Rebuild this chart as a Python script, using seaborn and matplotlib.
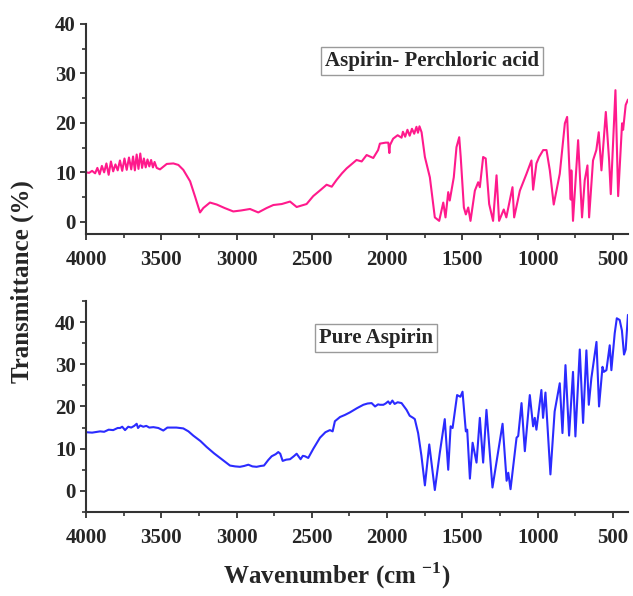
import numpy as np
import pandas as pd
import seaborn as sns
import matplotlib.pyplot as plt
from matplotlib.ticker import MultipleLocator

# 1. data
# Aspirin - Perchloric acid
top_wn = [4000, 3980, 3960, 3940, 3925, 3910, 3895, 3880, 3865, 3850, 3835, 3820,
          3805, 3790, 3775, 3760, 3745, 3730, 3715, 3700, 3688, 3676, 3664, 3652,
          3640, 3628, 3616, 3604, 3592, 3580, 3568, 3556, 3545, 3531, 3509, 3464,
          3420, 3387, 3354, 3309, 3276, 3243, 3221, 3177, 3132, 3080, 3022, 2970,
          2911, 2856, 2800, 2756, 2700, 2645, 2601, 2535, 2491, 2440, 2402, 2368,
          2335, 2300, 2269, 2203, 2169, 2136, 2092, 2060, 2048, 2010, 1992, 1985,
          1981, 1960, 1930, 1904, 1895, 1880, 1865, 1850, 1835, 1820, 1805, 1795,
          1785, 1771, 1749, 1716, 1683, 1654, 1627, 1612, 1594, 1584, 1557, 1539,
          1521, 1511, 1490, 1477, 1461, 1446, 1417, 1395, 1384, 1362, 1345, 1322,
          1296, 1273, 1256, 1225, 1208, 1167, 1156, 1118, 1074, 1041, 1030, 1008,
          990, 963, 941, 919, 893, 875, 853, 819, 804, 787, 780, 776, 765, 731,
          705, 687, 669, 658, 632, 610, 594, 576, 547, 525, 514, 483, 465, 439,
          432, 415, 400]
top_t = [10.0, 9.9, 10.3, 9.8, 10.9, 9.6, 11.3, 10.0, 11.8, 9.5, 12.2, 10.2,
         11.6, 10.4, 12.4, 10.3, 12.8, 10.5, 13.0, 10.6, 13.2, 10.4, 13.6, 10.7,
         13.8, 10.9, 12.8, 11.0, 12.6, 11.2, 12.5, 11.0, 12.1, 10.9, 10.6, 11.7,
         11.8, 11.5, 10.5, 8.2, 5.1, 1.9, 2.8, 3.9, 3.5, 2.8, 2.1, 2.3,
         2.6, 1.9, 2.8, 3.4, 3.6, 4.1, 3.0, 3.6, 5.2, 6.5, 7.5, 7.1,
         8.5, 9.8, 10.8, 12.5, 12.2, 13.5, 12.9, 14.5, 15.8, 16.0, 16.0, 13.9,
         15.5, 16.8, 17.5, 17.0, 18.2, 17.2, 18.6, 17.4, 18.8, 17.8, 19.2, 18.0,
         19.3, 18.1, 13.1, 9.0, 0.9, 0.2, 3.9, 0.9, 6.0, 4.3, 9.0, 15.1,
         17.1, 13.1, 2.9, 1.5, 2.9, 0.2, 6.3, 8.0, 7.0, 13.1, 12.8, 3.6,
         0.2, 9.4, 0.2, 2.5, 0.9, 7.0, 0.9, 6.3, 9.7, 12.4, 6.5, 11.8,
         13.1, 14.5, 14.5, 10.4, 3.5, 6.3, 9.7, 19.9, 21.2, 9.0, 4.5, 10.4, 0.2, 16.5,
         0.9, 8.4, 11.4, 0.9, 12.4, 14.5, 18.1, 10.4, 22.2, 12.4, 5.6, 26.6, 5.2, 19.9,
         18.6, 23.6, 24.7]

# Pure Aspirin
bot_wn = [4000, 3960, 3907, 3880, 3850, 3820, 3790, 3774, 3760, 3741, 3720, 3700,
          3680, 3664, 3655, 3640, 3620, 3600, 3580, 3553, 3520, 3487, 3460, 3443,
          3400, 3354, 3320, 3288, 3240, 3199, 3150, 3110, 3070, 3044, 3010, 2978,
          2950, 2922, 2895, 2867, 2840, 2818, 2790, 2767, 2740, 2723, 2710, 2694,
          2670, 2645, 2620, 2601, 2585, 2575, 2560, 2546, 2524, 2490, 2446, 2410,
          2380, 2362, 2347, 2313, 2280, 2247, 2200, 2158, 2130, 2103, 2080, 2060,
          2048, 2025, 2010, 1993, 1981, 1965, 1950, 1930, 1904, 1871, 1850, 1827,
          1816, 1794, 1772, 1749, 1720, 1683, 1650, 1617, 1594, 1578, 1565, 1535,
          1513, 1499, 1477, 1468, 1450, 1432, 1406, 1384, 1362, 1340, 1300, 1233,
          1206, 1195, 1180, 1140, 1129, 1107, 1085, 1052, 1030, 1019, 1008, 975,
          964, 948, 915, 887, 853, 835, 815, 791, 765, 749, 720, 698,
          676, 660, 643, 609, 592, 569, 560, 543, 521, 510, 488, 474,
          455, 440, 426, 415, 400]
bot_t = [13.9, 13.8, 14.1, 14.0, 14.5, 14.4, 14.9, 14.9, 15.2, 14.4, 15.2, 15.0,
         15.4, 15.9, 14.9, 15.5, 15.2, 15.4, 15.0, 15.1, 14.9, 14.3, 15.0, 15.0,
         15.0, 14.8, 14.1, 13.1, 11.8, 10.4, 8.9, 7.8, 6.7, 6.0, 5.8, 5.7,
         5.9, 6.2, 5.8, 5.7, 5.9, 6.0, 7.3, 8.2, 8.7, 9.2, 8.8, 7.1,
         7.4, 7.5, 8.2, 8.8, 8.0, 7.5, 8.3, 8.2, 7.8, 10.0, 12.6, 13.9,
         14.4, 14.1, 16.5, 17.5, 18.0, 18.6, 19.6, 20.4, 20.7, 20.8, 20.0, 20.5,
         20.4, 20.4, 20.7, 21.2, 20.6, 21.4, 20.6, 21.0, 20.8, 19.2, 17.8, 17.3,
         17.0, 13.7, 8.3, 1.3, 11.0, 0.2, 9.0, 17.0, 5.0, 15.3, 14.9, 22.7,
         22.3, 23.5, 14.1, 14.5, 2.9, 11.4, 6.7, 17.3, 6.7, 19.2, 0.8, 15.9,
         2.4, 4.3, 0.4, 12.6, 13.0, 20.8, 9.4, 22.7, 15.3, 17.3, 14.5, 23.9,
         17.3, 23.3, 3.9, 18.8, 25.5, 13.7, 29.8, 13.1, 28.2, 12.9, 33.5, 16.1,
         33.3, 20.4, 26.7, 35.3, 20.0, 29.4, 28.2, 28.6, 34.5, 28.6, 37.3, 40.9,
         40.5, 38.0, 32.3, 33.5, 41.7]

panels = ['Aspirin- Perchloric acid', 'Pure Aspirin']
colors = ['#ff1a8c', '#2b2bff']
ylims = [(-2.5, 40), (-5, 45)]

# 2. style
sns.set_style('ticks')
plt.rcParams['font.family'] = ['Liberation Serif', 'DejaVu Serif']
plt.rcParams['font.weight'] = 'bold'
plt.rcParams['mathtext.fontset'] = 'custom'
plt.rcParams['mathtext.rm'] = 'Liberation Serif:bold'
plt.rcParams['mathtext.bf'] = 'Liberation Serif:bold'

fig = plt.figure(figsize=(6.33, 5.96), dpi=100)
ax_top = fig.add_axes([0.136, 0.607, 0.856, 0.353])
ax_bot = fig.add_axes([0.136, 0.141, 0.856, 0.354])

data = [(top_wn, top_t), (bot_wn, bot_t)]
box_pos = [(0.638, 0.824), (0.535, 0.825)]

for i, ax in enumerate([ax_top, ax_bot]):
    df = pd.DataFrame({'wn': data[i][0], 't': data[i][1]})
    sns.lineplot(data=df, x='wn', y='t', ax=ax, color=colors[i], lw=1.5,
                 sort=False, estimator=None)
    ax.set_xlim(4000, 400)
    ax.set_ylim(*ylims[i])
    ax.xaxis.set_major_locator(MultipleLocator(500))
    ax.xaxis.set_minor_locator(MultipleLocator(250))
    ax.yaxis.set_major_locator(MultipleLocator(10))
    ax.yaxis.set_minor_locator(MultipleLocator(5))
    ax.tick_params(which='major', length=4.5, width=1.3, color='#333333',
                   labelsize=15)
    ax.tick_params(which='minor', length=3, width=1.2, color='#333333')
    ax.tick_params(axis='x', which='major', pad=7)
    ax.tick_params(axis='y', which='major', pad=3)
    for lab in ax.get_xticklabels() + ax.get_yticklabels():
        lab.set_fontweight('bold')
    sns.despine(ax=ax)
    for s in ['left', 'bottom']:
        ax.spines[s].set_linewidth(1.5)
        ax.spines[s].set_color('#333333')
    ax.set_xlabel('')
    ax.set_ylabel('')
    ax.text(box_pos[i][0], box_pos[i][1], panels[i], transform=ax.transAxes,
            ha='center', va='center', fontsize=15, fontweight='bold',
            bbox=dict(boxstyle='square,pad=0.2', fc='white', ec='#9a9a9a', lw=1))

fig.text(0.035, 0.528, 'Transmittance (%)', rotation=90, ha='center', va='center',
         fontsize=18, fontweight='bold')
fig.text(0.532, 0.034, r'Wavenumber (cm $^{-1}$)', ha='center', va='center',
         fontsize=18, fontweight='bold')

fig.savefig('out.png', dpi=100)
